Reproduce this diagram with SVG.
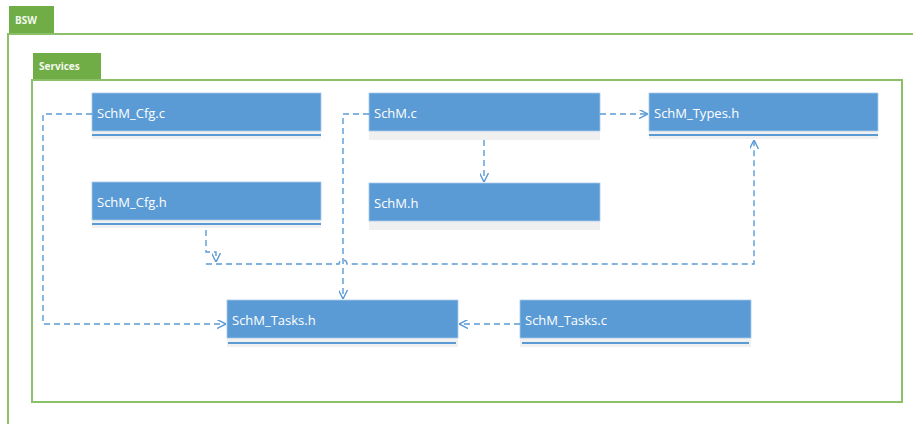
<svg xmlns="http://www.w3.org/2000/svg" width="913" height="424" viewBox="0 0 913 424">
<defs>
<style>
.frame{fill:none;stroke:#8cc068;stroke-width:2}
.tab{fill:#70ad47}
.tabt{font-family:"Open Sans","Noto Sans",sans-serif;font-size:10px;font-weight:bold;fill:#f2f8ee}
.box{fill:#5b9bd5;stroke:#a9c8ea;stroke-width:0.8}
.strip{fill:#f0f0f0}
.bl{stroke:#5b9bd5;stroke-width:2}
.lbl{font-family:"Open Sans","Noto Sans",sans-serif;font-size:13px;fill:#ffffff}
.con{fill:none;stroke:#5b9bd5;stroke-width:1.4;stroke-dasharray:6,4}
</style>
<marker id="arr" viewBox="0 0 10 10" refX="10" refY="5" markerWidth="9" markerHeight="9" markerUnits="userSpaceOnUse" orient="auto">
<path d="M0,0 L10,5 L0,10" fill="none" stroke="#5b9bd5" stroke-width="1.6"/>
</marker>
</defs>
<rect width="913" height="424" fill="#ffffff"/>
<g id="BSW">
<rect class="tab" x="9" y="6" width="45" height="28"/>
<text class="tabt" x="15" y="24">BSW</text>
<path class="frame" d="M914,34 H8 V426"/>
</g>
<g id="Services">
<rect class="tab" x="33" y="53" width="68" height="27"/>
<text class="tabt" x="39" y="70">Services</text>
<rect class="frame" x="32" y="80" width="870" height="322"/>
</g>
<g id="SchM_Cfg.c">
<rect class="strip" x="92" y="131" width="229" height="8"/>
<line class="bl" x1="92" y1="135" x2="321" y2="135"/>
<rect class="box" x="92" y="93" width="229" height="38"/>
<text class="lbl" x="97" y="118">SchM_Cfg.c</text>
</g>
<g id="SchM.c">
<rect class="strip" x="369" y="131" width="231" height="9"/>
<rect class="box" x="369" y="93" width="231" height="38"/>
<text class="lbl" x="374" y="118">SchM.c</text>
</g>
<g id="SchM_Types.h">
<rect class="strip" x="649" y="131" width="229" height="8"/>
<line class="bl" x1="649" y1="135" x2="878" y2="135"/>
<rect class="box" x="649" y="93" width="229" height="38"/>
<text class="lbl" x="654" y="118">SchM_Types.h</text>
</g>
<g id="SchM_Cfg.h">
<rect class="strip" x="92" y="219" width="229" height="9"/>
<line class="bl" x1="92" y1="224" x2="321" y2="224"/>
<rect class="box" x="92" y="182" width="229" height="38"/>
<text class="lbl" x="97" y="207">SchM_Cfg.h</text>
</g>
<g id="SchM.h">
<rect class="strip" x="369" y="221" width="231" height="9"/>
<rect class="box" x="369" y="183" width="231" height="38"/>
<text class="lbl" x="374" y="208">SchM.h</text>
</g>
<g id="SchM_Tasks.h">
<rect class="strip" x="227" y="338" width="231" height="9"/>
<line class="bl" x1="228" y1="343" x2="456" y2="343"/>
<rect class="box" x="227" y="300" width="231" height="38"/>
<text class="lbl" x="232" y="325">SchM_Tasks.h</text>
</g>
<g id="SchM_Tasks.c">
<rect class="strip" x="520" y="338" width="231" height="9"/>
<line class="bl" x1="522" y1="343" x2="749" y2="343"/>
<rect class="box" x="520" y="300" width="231" height="38"/>
<text class="lbl" x="525" y="325">SchM_Tasks.c</text>
</g>
<g id="connectors">
<path class="con" d="M92,114 H43 V324 H226" marker-end="url(#arr)"/>
<path class="con" d="M369,114 H343 V299" marker-end="url(#arr)"/>
<path class="con" d="M600,114 H648" marker-end="url(#arr)"/>
<path class="con" d="M484,140 V182" marker-end="url(#arr)"/>
<path class="con" d="M520,324 H459" marker-end="url(#arr)"/>
<path class="con" d="M206,230 V252 H216 V262" marker-end="url(#arr)"/>
<path class="con" d="M206,264 H339 A4,4 0 0 1 347,264 H754 V140" marker-end="url(#arr)"/>
</g>
</svg>
